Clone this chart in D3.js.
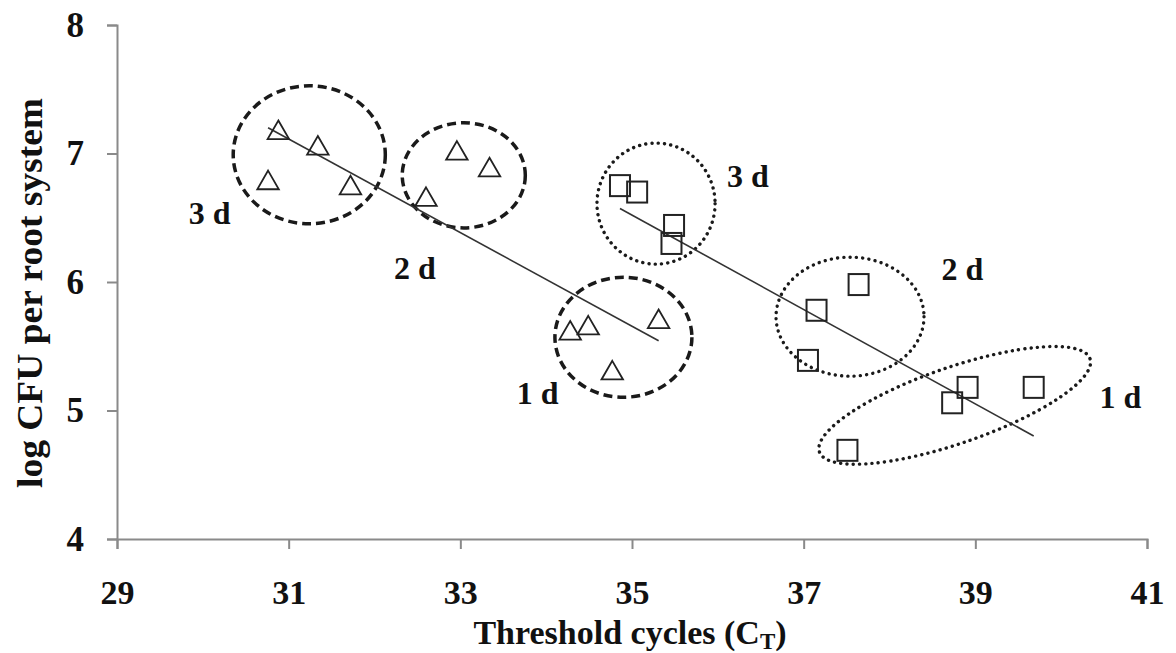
<!DOCTYPE html>
<html>
<head>
<meta charset="utf-8">
<script src="https://cdn.jsdelivr.net/npm/d3@7"></script>
<style>
  html, body { margin: 0; padding: 0; background: #fff; }
  svg { display: block; }
  text { font-family: "Liberation Serif", "Times New Roman", serif; font-weight: bold; fill: #111; }
</style>
</head>
<body>
<svg id="chart" width="1176" height="653"></svg>
<script>
// ---- Data ----
const xTicks = [29, 31, 33, 35, 37, 39, 41];
const yTicks = [4, 5, 6, 7, 8];

// Series 1 (triangles)
const triX = [30.76, 30.88, 31.34, 31.72, 32.60, 32.96, 33.34, 34.28, 34.49, 34.77, 35.31];
const triY = [6.77, 7.16, 7.04, 6.73, 6.64, 7.00, 6.87, 5.60, 5.64, 5.29, 5.69];

// Series 2 (squares)
const sqX = [34.86, 35.06, 35.49, 35.46, 37.15, 37.64, 37.05, 38.73, 38.91, 39.68, 37.51];
const sqY = [6.75, 6.70, 6.44, 6.30, 5.78, 5.98, 5.39, 5.06, 5.18, 5.18, 4.69];

// Group annotations (ellipses) in data units: centre x, centre y, radius x, radius y, rotation
const groupCx = [31.24, 33.04, 34.90, 35.28, 37.54, 38.76];
const groupCy = [6.99, 6.83, 5.57, 6.61, 5.73, 5.04];
const groupRx = [0.886, 0.717, 0.798, 0.688, 0.862, 1.667];
const groupRy = [0.537, 0.409, 0.467, 0.471, 0.463, 0.296];
const groupRot = [0, 0, 0, 0, 0, -19];
const groupSeries = ["tri", "tri", "tri", "sq", "sq", "sq"];

// Day labels
const labelText = ["3 d", "2 d", "1 d", "3 d", "2 d", "1 d"];
const labelX = [30.08, 32.47, 33.90, 36.35, 38.85, 40.69];
const labelY = [6.54, 6.11, 5.14, 6.83, 6.10, 5.11];

// ---- Chart ----
const svg = d3.select("#chart");
const x = d3.scaleLinear().domain([29, 41]).range([117, 1147]);
const y = d3.scaleLinear().domain([4, 8]).range([539, 25]);

const axisColor = "#8a8a8a";

// Y axis
const gy = svg.append("g").attr("transform", `translate(${x(29)},0)`)
  .call(d3.axisLeft(y).tickValues(yTicks).tickSize(10).tickPadding(23).tickFormat(d3.format("d")));
gy.select(".domain").attr("stroke", axisColor).attr("stroke-width", 2);
gy.selectAll(".tick line").attr("stroke", axisColor).attr("stroke-width", 2);
gy.selectAll(".tick text").attr("font-size", 35).attr("fill", "#111")
  .attr("font-family", "Liberation Serif").attr("font-weight", "bold");

// X axis
const gx = svg.append("g").attr("transform", `translate(0,${y(4)})`)
  .call(d3.axisBottom(x).tickValues(xTicks).tickSize(10).tickFormat(d3.format("d")));
gx.select(".domain").attr("stroke", axisColor).attr("stroke-width", 2);
gx.selectAll(".tick line").attr("stroke", axisColor).attr("stroke-width", 2);
gx.selectAll(".tick text").attr("font-size", 34).attr("fill", "#111")
  .attr("y", 65).attr("dy", 0)
  .attr("font-family", "Liberation Serif").attr("font-weight", "bold");

// Axis titles
svg.append("text")
  .attr("transform", `translate(42,293) rotate(-90)`)
  .attr("text-anchor", "middle")
  .attr("font-size", 36)
  .attr("textLength", 390).attr("lengthAdjust", "spacingAndGlyphs")
  .text("log CFU per root system");

const xt = svg.append("text")
  .attr("x", 630).attr("y", 644)
  .attr("text-anchor", "middle")
  .attr("font-size", 34);
xt.append("tspan").text("Threshold cycles (C");
xt.append("tspan").attr("font-size", 23).attr("dy", 5).text("T");
xt.append("tspan").attr("dy", -5).text(")");

// Ellipses
const groups = groupCx.map((cx, i) => ({cx, cy: groupCy[i], rx: groupRx[i], ry: groupRy[i], rot: groupRot[i], s: groupSeries[i]}));
svg.append("g").selectAll("ellipse").data(groups).join("ellipse")
  .attr("transform", d => `translate(${x(d.cx)},${y(d.cy)}) rotate(${d.rot})`)
  .attr("rx", d => x(d.cx + d.rx) - x(d.cx))
  .attr("ry", d => y(d.cy - d.ry) - y(d.cy))
  .attr("fill", "none")
  .attr("stroke", "#1a1a1a")
  .attr("stroke-width", d => d.s === "tri" ? 3.5 : 3.4)
  .attr("stroke-linecap", d => d.s === "tri" ? "butt" : "round")
  .attr("stroke-dasharray", d => d.s === "tri" ? "9,5" : "0.1,6.2");

// Trend lines (least squares)
function fit(xs, ys) {
  const n = xs.length;
  const mx = d3.mean(xs), my = d3.mean(ys);
  let sxy = 0, sxx = 0;
  for (let i = 0; i < n; i++) { sxy += (xs[i]-mx)*(ys[i]-my); sxx += (xs[i]-mx)**2; }
  const b = sxy / sxx, a = my - b*mx;
  const x0 = d3.min(xs), x1 = d3.max(xs);
  return [[x0, a + b*x0], [x1, a + b*x1]];
}
const line = d3.line().x(d => x(d[0])).y(d => y(d[1]));
[fit(triX, triY), fit(sqX, sqY)].forEach(seg => {
  svg.append("path").attr("d", line(seg)).attr("fill", "none")
    .attr("stroke", "#333").attr("stroke-width", 1.6);
});

// Markers
const triData = triX.map((v, i) => [v, triY[i]]);
const sqData = sqX.map((v, i) => [v, sqY[i]]);
svg.append("g").selectAll("path").data(triData).join("path")
  .attr("transform", d => `translate(${x(d[0])},${y(d[1])})`)
  .attr("d", d3.symbol(d3.symbolTriangle, 200)())
  .attr("fill", "none").attr("stroke", "#222").attr("stroke-width", 1.8);
svg.append("g").selectAll("rect").data(sqData).join("rect")
  .attr("x", d => x(d[0]) - 10).attr("y", d => y(d[1]) - 10.5)
  .attr("width", 20).attr("height", 21)
  .attr("fill", "none").attr("stroke", "#222").attr("stroke-width", 2);

// Day labels
svg.append("g").selectAll("text").data(labelText).join("text")
  .attr("x", (d, i) => x(labelX[i])).attr("y", (d, i) => y(labelY[i]))
  .attr("dy", "0.35em")
  .attr("text-anchor", "middle")
  .attr("font-size", 32)
  .text(d => d);
</script>
</body>
</html>
